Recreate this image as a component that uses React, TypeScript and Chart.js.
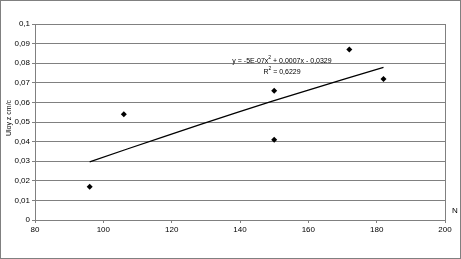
import React, { useEffect, useRef } from "react";
import { Chart, registerables } from "chart.js";
Chart.register(...registerables);

const pointsX = [96, 106, 150, 150, 172, 182];
const pointsY = [0.017, 0.054, 0.066, 0.041, 0.087, 0.072];
const trendX = [96, 118, 139, 160, 182];
const trendY = [0.0297, 0.0427, 0.0548, 0.0663, 0.0779];
const equationParts = ["y = -5E-07x", "2", " + 0,0007x - 0,0329"];
const r2Parts = ["R", "2", " = 0,6229"];
const yTitle = "Uloy z cm/c";
const xTitle = "N";

const FONT = "'Liberation Sans', Arial, sans-serif";

function drawSup(ctx: any, parts: string[], cx: number, cy: number) {
  const base = "7px " + FONT;
  const sup = "5px " + FONT;
  ctx.font = base;
  const w0 = ctx.measureText(parts[0]).width;
  const w2 = ctx.measureText(parts[2]).width;
  ctx.font = sup;
  const w1 = ctx.measureText(parts[1]).width;
  let x = cx - (w0 + w1 + w2) / 2;
  ctx.textAlign = "left";
  ctx.textBaseline = "middle";
  ctx.font = base;
  ctx.fillText(parts[0], x, cy);
  x += w0;
  ctx.font = sup;
  ctx.fillText(parts[1], x, cy - 3);
  x += w1;
  ctx.font = base;
  ctx.fillText(parts[2], x, cy);
}

const decor = {
  id: "decor",
  afterDraw(chart: any) {
    const { ctx, chartArea } = chart;
    ctx.save();
    ctx.strokeStyle = "#808080";
    ctx.lineWidth = 1;
    ctx.strokeRect(0.5, 0.5, chart.width - 1, chart.height - 1);
    ctx.beginPath();
    ctx.moveTo(Math.round(chartArea.right) + 0.5, chartArea.top);
    ctx.lineTo(Math.round(chartArea.right) + 0.5, chartArea.bottom);
    ctx.stroke();
    ctx.fillStyle = "#000";
    drawSup(ctx, equationParts, 282, 61);
    drawSup(ctx, r2Parts, 282, 72);
    ctx.textAlign = "center";
    ctx.textBaseline = "middle";
    ctx.font = "8px " + FONT;
    ctx.fillText(xTitle, 455, 211);
    ctx.save();
    ctx.translate(9, 118);
    ctx.rotate(-Math.PI / 2);
    ctx.font = "7px " + FONT;
    ctx.fillText(yTitle, 0, 0);
    ctx.restore();
    ctx.restore();
  },
};

export default function App() {
  const ref = useRef<HTMLCanvasElement>(null);
  useEffect(() => {
    document.body.style.margin = "0";
    const chart = new Chart(ref.current!, {
      type: "scatter",
      data: {
        datasets: [
          {
            type: "line",
            data: trendX.map((x, i) => ({ x, y: trendY[i] })),
            borderColor: "#000",
            borderWidth: 1.3,
            pointRadius: 0,
            tension: 0.4,
            fill: false,
          } as any,
          {
            data: pointsX.map((x, i) => ({ x, y: pointsY[i] })),
            backgroundColor: "#000",
            borderColor: "#000",
            pointStyle: "rectRot",
            pointRadius: 3,
            borderWidth: 0,
          },
        ],
      },
      options: {
        animation: false,
        responsive: false,
        devicePixelRatio: 1,
        layout: { padding: { left: 0, top: 24, right: 16, bottom: 0 } },
        plugins: { legend: { display: false }, tooltip: { enabled: false } },
        scales: {
          x: {
            type: "linear",
            min: 80,
            max: 200,
            ticks: {
              stepSize: 20,
              color: "#000",
              font: { size: 8, family: FONT },
              padding: 2,
              maxRotation: 0,
            },
            grid: {
              display: true,
              drawOnChartArea: false,
              drawTicks: true,
              tickLength: 3,
              color: "#808080",
            },
            border: { color: "#808080" },
            afterFit(s: any) {
              s.height = 39;
            },
          },
          y: {
            min: 0,
            max: 0.1,
            ticks: {
              stepSize: 0.01,
              color: "#000",
              font: { size: 8, family: FONT },
              padding: 2,
              callback: (v: any) =>
                v === 0 ? "0" : Number(v).toFixed(2).replace(/0$/, "").replace(".", ","),
            },
            grid: {
              color: "#808080",
              tickLength: 3,
            },
            border: { color: "#808080" },
            afterFit(s: any) {
              s.width = 35;
            },
          },
        },
      },
      plugins: [decor],
    });
    return () => chart.destroy();
  }, []);
  return <canvas ref={ref} width={461} height={259} style={{ display: "block" }} />;
}
